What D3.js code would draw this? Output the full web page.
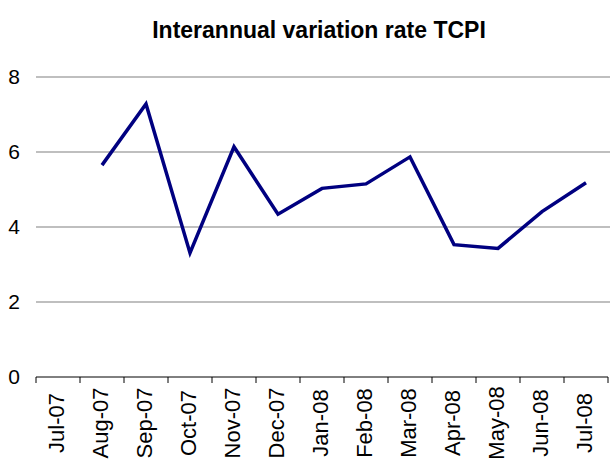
<!DOCTYPE html>
<html>
<head>
<meta charset="utf-8">
<script src="https://cdn.jsdelivr.net/npm/d3@7"></script>
<style>
  body { margin: 0; background: #fff; }
  svg text { font-family: "Liberation Sans", Arial, sans-serif; }
</style>
</head>
<body>
<div id="chart"></div>
<script>
var months = ["Jul-07", "Aug-07", "Sep-07", "Oct-07", "Nov-07", "Dec-07", "Jan-08",
              "Feb-08", "Mar-08", "Apr-08", "May-08", "Jun-08", "Jul-08"];
var rates = [null, 5.65, 7.28, 3.31, 6.14, 4.34, 5.03, 5.15, 5.87, 3.53, 3.43, 4.41, 5.18];
var yTicks = [0, 2, 4, 6, 8];

var width = 610, height = 461;
var plotLeft = 36, plotRight = 608, plotTop = 77, plotBottom = 377;

var svg = d3.select("#chart").append("svg")
    .attr("width", width)
    .attr("height", height);

svg.append("text")
    .attr("x", 319)
    .attr("y", 38)
    .attr("text-anchor", "middle")
    .style("font-size", "23px")
    .style("font-weight", "bold")
    .text("Interannual variation rate TCPI");

var x = d3.scaleBand()
    .domain(months)
    .range([plotLeft, plotRight]);

var y = d3.scaleLinear()
    .domain([0, 8])
    .range([plotBottom, plotTop]);

// gridlines
svg.append("g")
    .selectAll("line")
    .data(yTicks.filter(d => d > 0))
    .enter().append("line")
    .attr("x1", plotLeft)
    .attr("x2", width)
    .attr("y1", d => y(d))
    .attr("y2", d => y(d))
    .attr("stroke", "#808080")
    .attr("stroke-width", 1.2);

// y labels
svg.append("g")
    .selectAll("text")
    .data(yTicks)
    .enter().append("text")
    .attr("x", 14)
    .attr("y", d => y(d) + 7)
    .attr("text-anchor", "middle")
    .style("font-size", "21px")
    .text(d => d);

// x axis line + ticks
svg.append("line")
    .attr("x1", plotLeft).attr("x2", plotRight)
    .attr("y1", plotBottom).attr("y2", plotBottom)
    .attr("stroke", "#000").attr("stroke-width", 1);

svg.append("g")
    .selectAll("line")
    .data(months.concat(["end"]))
    .enter().append("line")
    .attr("x1", (d, i) => plotLeft + i * x.bandwidth())
    .attr("x2", (d, i) => plotLeft + i * x.bandwidth())
    .attr("y1", plotBottom)
    .attr("y2", plotBottom + 6)
    .attr("stroke", "#000");

svg.append("g")
    .selectAll("text")
    .data(months)
    .enter().append("text")
    .attr("transform", d => "translate(" + (x(d) + x.bandwidth() / 2 + 6) + ",423) rotate(-90)")
    .attr("text-anchor", "middle")
    .style("font-size", "22px")
    .text(d => d);

var line = d3.line()
    .defined(d => d != null)
    .x((d, i) => x(months[i]) + x.bandwidth() / 2)
    .y(d => y(d));

svg.append("path")
    .datum(rates)
    .attr("d", line)
    .attr("fill", "none")
    .attr("stroke", "#000080")
    .attr("stroke-width", 3.5)
    .attr("stroke-linejoin", "miter");
</script>
</body>
</html>
